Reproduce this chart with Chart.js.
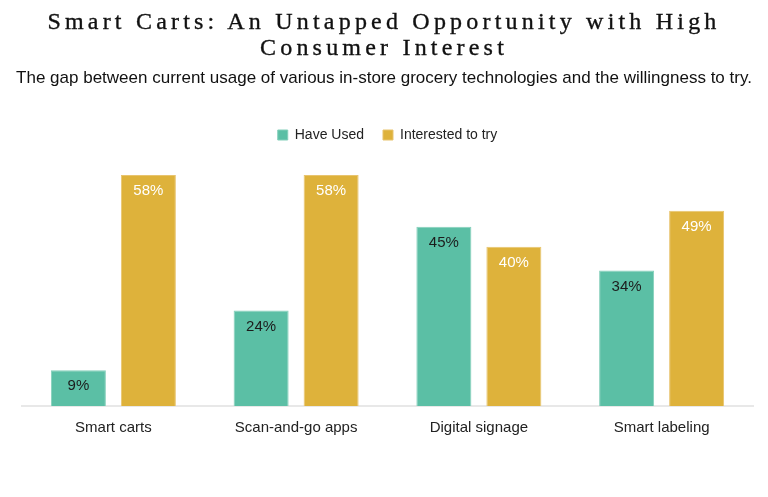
<!DOCTYPE html>
<html>
<head>
<meta charset="utf-8">
<script src="https://cdn.jsdelivr.net/npm/chart.js@4.4.1/dist/chart.umd.min.js"></script>
<style>
  html, body { margin: 0; padding: 0; background: #ffffff; }
  #wrap { position: relative; width: 768px; height: 497px; overflow: hidden; }
  #title {
    position: absolute; left: 0; top: 8px; width: 768px; text-align: center;
    font-family: "Liberation Serif", "DejaVu Serif", serif; font-weight: normal;
    font-size: 24px; line-height: 26px; letter-spacing: 4.2px; color: #111;
    -webkit-text-stroke: 0.35px #111;
  }
  #subtitle {
    position: absolute; left: 0; top: 68px; width: 768px; text-align: center;
    font-family: "Liberation Sans", Arial, sans-serif; font-size: 17px; line-height: 20px; color: #111;
  }
  canvas { position: absolute; left: 0; top: 0; }
</style>
</head>
<body>
<div id="wrap">
  <canvas id="c" width="768" height="497"></canvas>
  <div id="title">Smart Carts: An Untapped Opportunity with High<br>Consumer Interest</div>
  <div id="subtitle">The gap between current usage of various in-store grocery technologies and the willingness to try.</div>
</div>
<script>
const categories = ["Smart carts", "Scan-and-go apps", "Digital signage", "Smart labeling"];
const haveUsed = [9, 24, 45, 34];
const interested = [58, 58, 40, 49];
const seriesNames = ["Have Used", "Interested to try"];

const legendSpace = {
  id: 'legendSpace',
  beforeInit(chart) {
    const orig = chart.legend.fit;
    chart.legend.fit = function () {
      orig.bind(chart.legend)();
      this.height = 58;
    };
  }
};

const barLabels = {
  id: 'barLabels',
  afterDatasetsDraw(chart) {
    const ctx = chart.ctx;
    ctx.save();
    ctx.font = '15px "Liberation Sans", Arial, sans-serif';
    ctx.textAlign = 'center';
    ctx.textBaseline = 'middle';
    chart.data.datasets.forEach((ds, di) => {
      const meta = chart.getDatasetMeta(di);
      meta.data.forEach((bar, i) => {
        ctx.fillStyle = di === 0 ? '#1c1c1c' : '#ffffff';
        ctx.fillText(ds.data[i] + '%', bar.x, bar.y + 16);
      });
    });
    ctx.restore();
  }
};

new Chart(document.getElementById('c'), {
  type: 'bar',
  data: {
    labels: categories,
    datasets: [
      {
        label: seriesNames[0], data: haveUsed,
        backgroundColor: '#5BBFA5', borderColor: '#84CFBA', borderWidth: 1,
        categoryPercentage: 0.766, barPercentage: 0.786
      },
      {
        label: seriesNames[1], data: interested,
        backgroundColor: '#DEB23B', borderColor: '#E8C46E', borderWidth: 1,
        categoryPercentage: 0.766, barPercentage: 0.786
      }
    ]
  },
  options: {
    responsive: false,
    animation: false,
    devicePixelRatio: 1,
    layout: { padding: { top: 109, left: 22, right: 15, bottom: 47 } },
    plugins: {
      legend: {
        position: 'top',
        labels: {
          boxWidth: 10, boxHeight: 10, padding: 19,
          color: '#222',
          font: { family: '"Liberation Sans", Arial, sans-serif', size: 14 }
        }
      },
      title: { display: false },
      tooltip: { enabled: false }
    },
    scales: {
      x: {
        grid: { display: false, drawTicks: false },
        border: { display: true, color: '#e8e8e8', width: 2 },
        ticks: {
          padding: 13, color: '#222',
          font: { family: '"Liberation Sans", Arial, sans-serif', size: 15 }
        }
      },
      y: {
        display: false, min: 0, max: 60, beginAtZero: true
      }
    }
  },
  plugins: [legendSpace, barLabels]
});
</script>
</body>
</html>
